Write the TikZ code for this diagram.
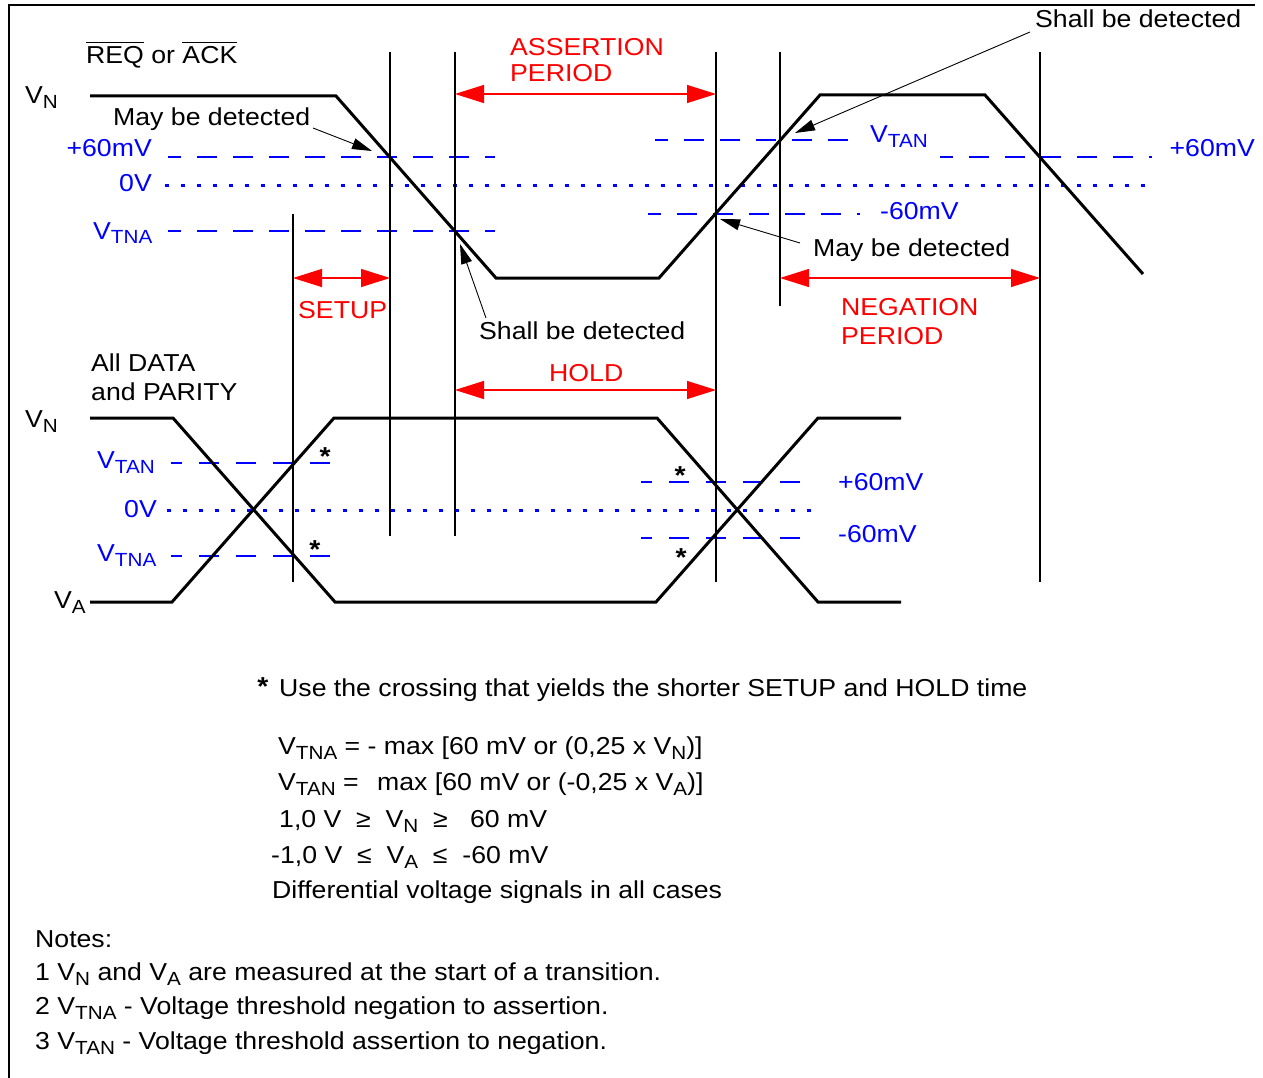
\documentclass[tikz,border=0pt]{standalone}
\usepackage{fontspec}
\setmainfont{Liberation Sans}[FakeStretch=1.088]
\usetikzlibrary{arrows.meta}
\newcommand\lsub[1]{\raisebox{-5pt}{\fontsize{19}{19}\selectfont #1}}
\newcommand\ovl[1]{\vbox{\hrule height 1.3pt\kern 4pt\hbox{#1}}}
\begin{document}
\begin{tikzpicture}[x=1pt,y=-1pt,
  wave/.style={line width=3pt},
  vline/.style={line width=1.2pt},
  frame/.style={line width=1.2pt},
  thr/.style={blue, line width=1.2pt, dash pattern=on 20pt off 16pt, dash phase=7pt},
  thrb/.style={blue, line width=1.2pt, dash pattern=on 20pt off 17pt, dash phase=9pt},
  zero/.style={blue, line width=3pt, dash pattern=on 3.5pt off 12.5pt},
  span/.style={red, line width=1.2pt, {Triangle[length=29pt,width=18pt]}-{Triangle[length=29pt,width=18pt]}},
  pointer/.style={line width=0.9pt, -{Triangle[length=20pt,width=11pt]}},
  lbl/.style={inner sep=0pt, anchor=base west, font=\fontsize{24.5}{28}\selectfont},
  blbl/.style={lbl, text=blue},
  rlbl/.style={lbl, text=red},
  star/.style={inner sep=0pt, anchor=base, font=\fontsize{26}{28}\selectfont\bfseries}]
\useasboundingbox (0,0) rectangle (1263,1078);
\fill[white] (0,0) rectangle (1263,1078);
% frame
\draw[frame] (9,1078) -- (9,5) -- (1255,5);

% ---------- threshold / zero lines, top ----------
\draw[thr] (168,157) -- (495,157);
\draw[thr] (168,231) -- (495,231);
\draw[zero] (165,186) -- (1145,186);
\draw[thr] (655,140) -- (860,140);
\draw[thr] (648,214) -- (860,214);
\draw[thr] (940,157) -- (1152,157);

% ---------- threshold / zero lines, bottom ----------
\draw[thrb] (171,463) -- (330,463);
\draw[thrb] (171,556) -- (330,556);
\draw[zero] (167,510) -- (817,510);
\draw[thrb] (641,482) -- (816,482);
\draw[thrb] (641,538) -- (816,538);

% ---------- vertical timing lines ----------
\coordinate (s1t) at (293,214);  \coordinate (s1b) at (293,582);
\coordinate (s2t) at (390,52);   \coordinate (s2b) at (390,536);
\coordinate (s3t) at (455,52);   \coordinate (s3b) at (455,536);
\coordinate (s4t) at (716,52);   \coordinate (s4b) at (716,582);
\coordinate (s5t) at (780,52);   \coordinate (s5b) at (780,306);
\coordinate (s6t) at (1040,52);  \coordinate (s6b) at (1040,582);
\foreach \v in {s1,s2,s3,s4,s5,s6} \draw[vline] (\v t) -- (\v b);

% ---------- waveforms ----------
\draw[wave] (90,96) -- (336,96) -- (496,278) -- (659,278) -- (820,95) -- (985,95) -- (1143,274);
\draw[wave] (90,418) -- (173,418) -- (335,602) -- (656,602) -- (818,418) -- (901,418);
\draw[wave] (90,602) -- (172,602) -- (334,418) -- (657,418) -- (818,602) -- (901,602);

% ---------- red spans ----------
\coordinate (asL) at (455,94);  \coordinate (asR) at (716,94);
\coordinate (suL) at (293,278); \coordinate (suR) at (390,278);
\coordinate (hoL) at (455,390); \coordinate (hoR) at (716,390);
\coordinate (neL) at (780,278); \coordinate (neR) at (1040,278);
\draw[span] (asL) -- (asR);
\draw[span] (suL) -- (suR);
\draw[span] (hoL) -- (hoR);
\draw[span] (neL) -- (neR);

\node[rlbl] (assert1) at (510,56) {ASSERTION};
\node[rlbl] (assert2) at (510,82) {PERIOD};
\node[rlbl] (setup) at (298,318) {SETUP};
\node[rlbl] (hold) at (549,381) {HOLD};
\node[rlbl] (neg1) at (841,315) {NEGATION};
\node[rlbl] (neg2) at (841,344) {PERIOD};

% ---------- black labels top ----------
\node[lbl] (req) at (86,64) {\ovl{REQ} or \ovl{ACK}};
\node[lbl] (vn1) at (25,104) {V\lsub{N}};
\node[lbl] (may1) at (113,126) {May be detected};
\node[lbl] (shall1) at (1035,28) {Shall be detected};
\node[lbl] (may2) at (813,256) {May be detected};
\node[lbl] (shall2) at (479,339) {Shall be detected};

\coordinate (may1s) at (313,128);   \coordinate (may1e) at (372,151);
\coordinate (shall1s) at (1030,32); \coordinate (shall1e) at (795,133);
\coordinate (may2s) at (800,243);   \coordinate (may2e) at (720,219);
\coordinate (shall2s) at (486,318); \coordinate (shall2e) at (460,244);
\draw[pointer] (may1s) -- (may1e);
\draw[pointer] (shall1s) -- (shall1e);
\draw[pointer] (may2s) -- (may2e);
\draw[pointer] (shall2s) -- (shall2e);

% ---------- blue labels top ----------
\node[blbl, anchor=base east] (p60a) at (152,157) {+60mV};
\node[blbl, anchor=base east] (z0a) at (152,192) {0V};
\node[blbl] (vtna1) at (93,239) {V\lsub{TNA}};
\node[blbl] (vtan1) at (870,143) {V\lsub{TAN}};
\node[blbl, anchor=base east] (p60b) at (1255,157) {+60mV};
\node[blbl] (m60a) at (880,219) {-60mV};

% ---------- bottom diagram labels ----------
\node[lbl] (data1) at (91,371) {All DATA};
\node[lbl] (data2) at (91,400) {and PARITY};
\node[lbl] (vn2) at (25,427) {V\lsub{N}};
\node[lbl] (va2) at (54,608) {V\lsub{A}};
\node[blbl] (vtan2) at (97,468) {V\lsub{TAN}};
\node[blbl, anchor=base east] (z0b) at (157,517) {0V};
\node[blbl] (vtna2) at (97,561) {V\lsub{TNA}};
\node[blbl] (p60c) at (838,490) {+60mV};
\node[blbl] (m60c) at (838,542) {-60mV};

\node[star] (st1) at (325,465) {*};
\node[star] (st2) at (315,558) {*};
\node[star] (st3) at (680,484) {*};
\node[star] (st4) at (681,566) {*};

% ---------- explanation text ----------
\node[star] (st5) at (263,695) {*};
\node[lbl] (use) at (279,696) {Use the crossing that yields the shorter SETUP and HOLD time};
\node[lbl] (f1) at (278,754) {V\lsub{TNA} = - max [60 mV or (0,25 x V\lsub{N})]};
\node[lbl] (f2) at (278,790) {V\lsub{TAN} =\hspace{0.75em}max [60 mV or (-0,25 x V\lsub{A})]};
\node[lbl] (f3) at (279,827) {1,0 V\ \ ≥\ \ V\lsub{N}\ \ ≥\ \ \ 60 mV};
\node[lbl] (f4) at (271,863) {-1,0 V\ \ ≤\ \ V\lsub{A}\ \ ≤\ \ -60 mV};
\node[lbl] (f5) at (272,898) {Differential voltage signals in all cases};

\node[lbl] (notes) at (35,947) {Notes:};
\node[lbl] (n1) at (35,980) {1 V\lsub{N} and V\lsub{A} are measured at the start of a transition.};
\node[lbl] (n2) at (35,1014) {2 V\lsub{TNA} - Voltage threshold negation to assertion.};
\node[lbl] (n3) at (35,1049) {3 V\lsub{TAN} - Voltage threshold assertion to negation.};
\end{tikzpicture}
\end{document}
